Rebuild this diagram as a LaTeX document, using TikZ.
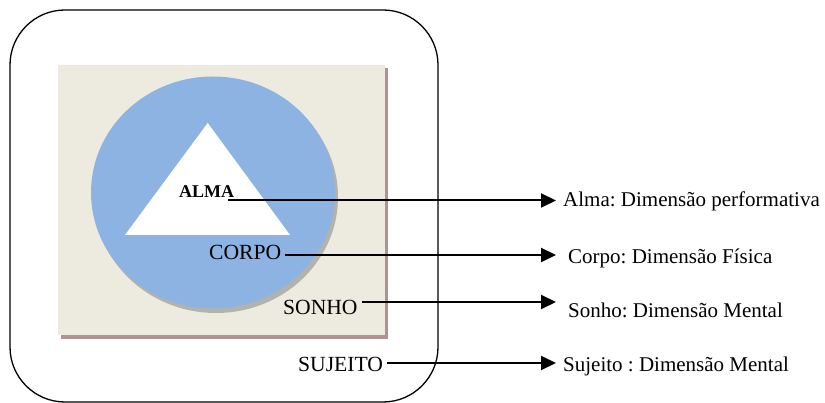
\documentclass[tikz,border=0pt]{standalone}
\usepackage{fontspec}
\setmainfont{Liberation Serif}
\frenchspacing
\usetikzlibrary{arrows.meta,positioning,calc}

\definecolor{fundo}{HTML}{EDEAE0}
\definecolor{sombraFundo}{HTML}{B09291}
\definecolor{azulAlma}{HTML}{8DB3E2}
\definecolor{sombraCirculo}{HTML}{B3B3AD}

\tikzset{
  rotulo/.style={inner xsep=4pt, inner ysep=0pt, anchor=base west,
    font=\fontsize{21.6}{24}\selectfont},
  dimensao/.style={inner sep=0pt, anchor=base west,
    font=\fontsize{21}{24}\selectfont},
  seta/.style={line width=2pt, -{Triangle[length=15pt, width=14pt]}},
}

\begin{document}
\begin{tikzpicture}[x=1pt, y=-1pt]
    \useasboundingbox (0,0) rectangle (825,403);
    %% moldura do sujeito
    \draw[line width=1.3pt, rounded corners=55pt] (10,10) rectangle (438,402);
    %% quadro do sonho com sombra
    \fill[sombraFundo] (61,68) rectangle (388,339);
    \fill[fundo] (58,65) rectangle (385,335);
    %% circulo do corpo
    \fill[sombraCirculo] (216,197) ellipse [x radius=122, y radius=116];
    \fill[azulAlma] (213,192.5) ellipse [x radius=122, y radius=116];
    %% triangulo da alma
    \fill[white] (207.7,123) -- (125,235) -- (290,235) -- cycle;

    \node[rotulo, font=\fontsize{18}{20}\selectfont\bfseries] (alma) at (175,197.7) {ALMA};
    \node[rotulo] (corpo) at (205,260) {CORPO};
    \node[rotulo] (sonho) at (279,315) {SONHO};
    \node[rotulo] (sujeito) at (294,371) {SUJEITO};

    \node[dimensao] (dimAlma) at (563,207) {Alma: Dimensão performativa};
    \node[dimensao] (dimCorpo) at (568,264) {Corpo: Dimensão Física};
    \node[dimensao] (dimSonho) at (568,318) {Sonho: Dimensão Mental};
    \node[dimensao] (dimSujeito) at (563,372) {Sujeito : Dimensão Mental};

    \coordinate (almaIni) at (228,200.5);
    \coordinate (pontaAlma) at (556,200.5);
    \coordinate (pontaCorpo) at (556,255);
    \coordinate (pontaSonho) at (556,302);
    \coordinate (pontaSujeito) at (556,363);

    \draw[seta] (almaIni) -- (pontaAlma);
    \draw[seta] (corpo.east |- pontaCorpo) -- (pontaCorpo);
    \draw[seta] (sonho.east |- pontaSonho) -- (pontaSonho);
    \draw[seta] (sujeito.east |- pontaSujeito) -- (pontaSujeito);
\end{tikzpicture}
\end{document}
